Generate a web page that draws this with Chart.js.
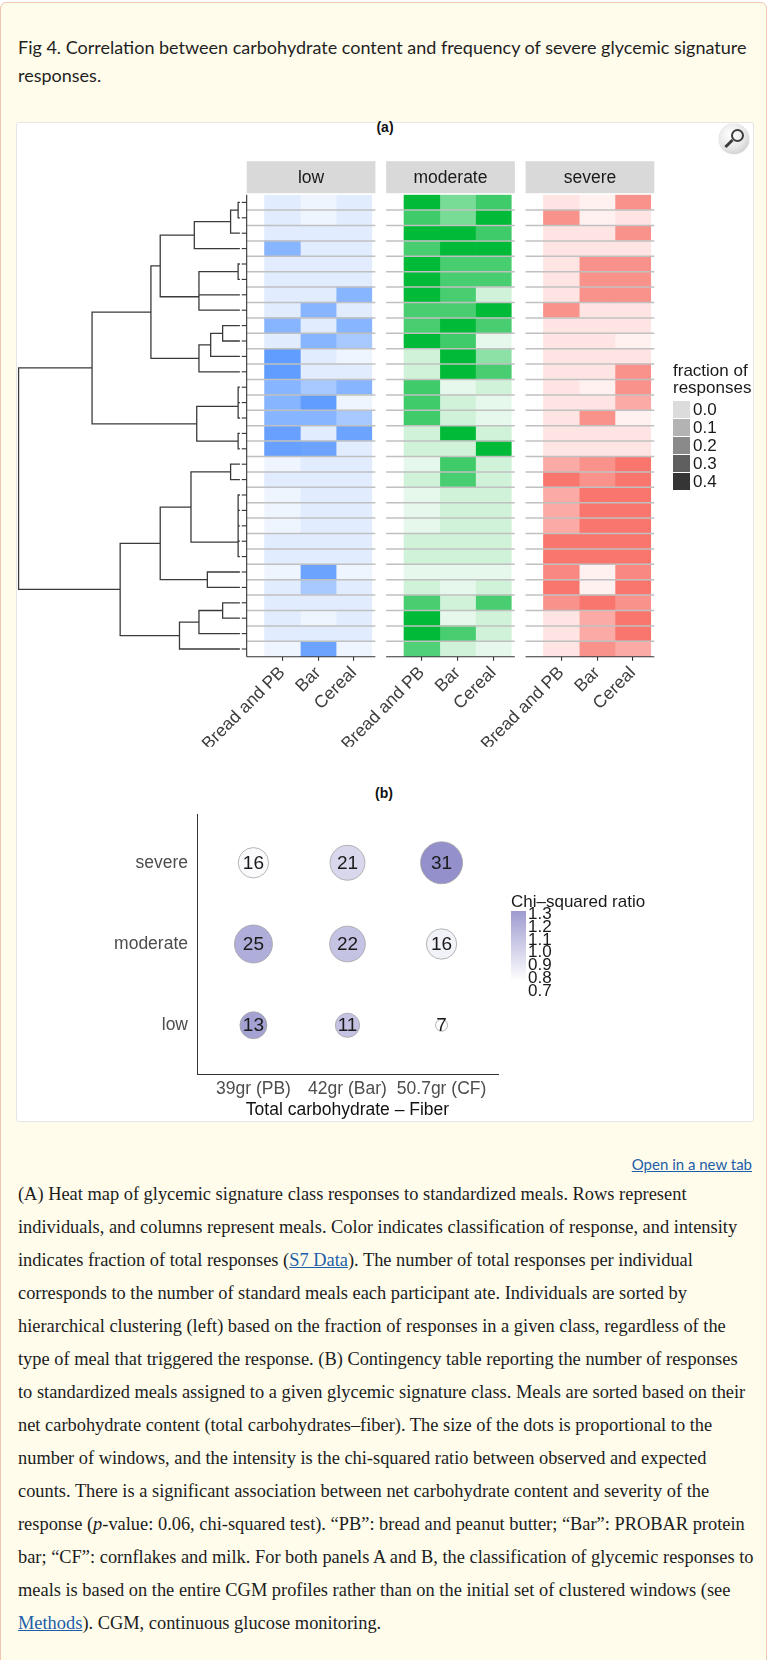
<!DOCTYPE html>
<html lang="en">
<head>
  <meta charset="UTF-8" />
  <title>Fig 4 - Glycemic signature responses</title>
  <script src="https://cdn.jsdelivr.net/npm/chart.js"></script>
  <style>
    html, body { margin:0; padding:0; }
    body { width:768px; height:1660px; background:#fff; position:relative; overflow:hidden; font-family:'Liberation Sans', Arial, sans-serif; }
    .box { position:absolute; left:0; top:2px; width:765px; height:1700px; background:#fffcec; border:1px solid #f2c6b0; border-radius:6px; }
    .title { position:absolute; left:18px; top:33px; font-family:Lato, sans-serif; font-size:18px; line-height:28px; color:#1f1f1f; white-space:nowrap; }
    .panel { position:absolute; left:16px; top:122px; width:736px; height:998px; background:#fff; border:1px solid #e6e6e6; border-radius:3px; }
    .tag { position:absolute; font-weight:bold; font-size:14px; color:#111; transform:translate(-50%, -50%); }
    .wrap { position:absolute; left:0; width:768px; }
    .zoomicon { position:absolute; left:719px; top:124px; width:30px; height:30px; border-radius:50%;
      background:radial-gradient(circle at 40% 35%, #ffffff 0%, #e6e6e6 55%, #b9b9b9 100%); box-shadow:0 0 1px #888; }
    .zoomicon .lens { position:absolute; left:12px; top:5px; width:9px; height:9px; border:2px solid #3c3c3c; border-radius:50%; }
    .zoomicon .handle { position:absolute; left:5px; top:18px; width:10px; height:3px; background:#3c3c3c; transform:rotate(-45deg); }
    .leg { position:absolute; font-size:17px; color:#1a1a1a; white-space:nowrap; line-height:16.7px; }
    .key { position:absolute; width:17px; height:17px; }
    .klab { position:absolute; font-size:17px; color:#1a1a1a; transform:translateY(-50%); }
    .cbar { position:absolute; left:511px; top:911px; width:15px; height:70px; background:linear-gradient(#9e9bd0, #ffffff); }
    .open { position:absolute; right:16px; top:1155px; font-family:Lato, sans-serif; font-size:15px; color:#1d5ea8; text-decoration:underline; }
    .caption { position:absolute; left:18px; top:1178px; font-family:'Liberation Serif', serif; font-size:18.4px; line-height:33px; color:#1c1c1c; white-space:nowrap; }
    .caption a { color:#1d5ea8; text-decoration:underline; }
  </style>
</head>
<body>
  <div class="box"></div>
  <div class="title">Fig 4. Correlation between carbohydrate content and frequency of severe glycemic signature<br>responses.</div>
  <div class="panel"></div>
  <div class="zoomicon"><div class="lens"></div><div class="handle"></div></div>
  <div class="tag" style="left:385px; top:127px;">(a)</div>
  <div class="tag" style="left:384px; top:793px;">(b)</div>

  <div class="wrap" style="top:150px; height:600px;"><canvas id="heatChart"></canvas></div>
  <div class="wrap" style="top:790px; height:340px;"><canvas id="bubbleChart"></canvas></div>

  <!-- fraction legend -->
  <div class="leg" style="left:673px; top:363px;">fraction of<br>responses</div>
  <div id="fracKeys"></div>

  <!-- chi-squared legend -->
  <div class="leg" style="left:511px; top:894px;">Chi&ndash;squared ratio</div>
  <div class="cbar"></div>
  <div id="chiLabels"></div>

  <a class="open">Open in a new tab</a>

  <div class="caption">
(A) Heat map of glycemic signature class responses to standardized meals. Rows represent<br>
individuals, and columns represent meals. Color indicates classification of response, and intensity<br>
indicates fraction of total responses (<a>S7 Data</a>). The number of total responses per individual<br>
corresponds to the number of standard meals each participant ate. Individuals are sorted by<br>
hierarchical clustering (left) based on the fraction of responses in a given class, regardless of the<br>
type of meal that triggered the response. (B) Contingency table reporting the number of responses<br>
to standardized meals assigned to a given glycemic signature class. Meals are sorted based on their<br>
net carbohydrate content (total carbohydrates&ndash;fiber). The size of the dots is proportional to the<br>
number of windows, and the intensity is the chi-squared ratio between observed and expected<br>
counts. There is a significant association between net carbohydrate content and severity of the<br>
response (<i>p</i>-value: 0.06, chi-squared test). &ldquo;PB&rdquo;: bread and peanut butter; &ldquo;Bar&rdquo;: PROBAR protein<br>
bar; &ldquo;CF&rdquo;: cornflakes and milk. For both panels A and B, the classification of glycemic responses to<br>
meals is based on the entire CGM profiles rather than on the initial set of clustered windows (see<br>
<a>Methods</a>). CGM, continuous glucose monitoring.
  </div>

  <script>
    // ---- panel (a) data: fraction of responses per individual (row) for Bread and PB, Bar, Cereal ----
    const meals = ["Bread and PB", "Bar", "Cereal"];
    const classNames = ["low", "moderate", "severe"];

    const lowFrac = [
      [.04, 0, .04], [.04, 0, .04], [.04, .04, .04], [.29, .04, .04], [.04, .04, .04],
      [.04, .04, .04], [.04, .04, .29], [.04, .29, .04], [.29, .04, .29], [.04, .29, .2],
      [.4, .04, 0], [.4, .04, .04], [.29, .2, .29], [.29, .4, 0], [.29, .29, .2],
      [.38, .04, .37], [.38, .37, .04], [0, .04, .04], [.04, .04, .04], [0, .04, .04],
      [0, .04, .04], [0, .04, .04], [.04, .04, .04], [.04, .04, .04], [0, .37, 0],
      [.04, .2, .04], [.04, .04, .04], [.04, 0, .04], [.04, .04, .04], [0, .37, 0]
    ];
    const moderateFrac = [
      [.4, .19, .29], [.29, .19, .4], [.4, .4, .29], [.275, .4, .4], [.4, .275, .275],
      [.4, .275, .275], [.4, .275, .04], [.275, .275, .4], [.275, .4, .275], [.4, .29, 0],
      [.04, .4, .155], [.04, .4, .275], [.29, 0, .04], [.29, .04, 0], [.29, .04, 0],
      [.04, .4, .04], [.04, .04, .4], [0, .29, .04], [.04, .275, .04], [0, .04, .04],
      [0, .04, .04], [0, .04, .04], [.04, .04, .04], [.04, .04, .04], [0, 0, 0],
      [.04, 0, .04], [.275, .04, .275], [.4, 0, .04], [.4, .275, .04], [.26, .04, 0]
    ];
    const severeFrac = [
      [.04, 0, .31], [.31, 0, .04], [.04, .04, .31], [.04, .04, .04], [.04, .31, .31],
      [.04, .31, .31], [.04, .31, .31], [.31, .04, .04], [.04, .04, .04], [.04, .04, 0],
      [.04, .04, .04], [.04, .04, .31], [.04, 0, .31], [.04, .04, .23], [.04, .31, 0],
      [.04, .04, .04], [.04, .04, .04], [.23, .31, .4], [.4, .31, .4], [.23, .4, .4],
      [.23, .4, .4], [.23, .4, .4], [.4, .4, .4], [.4, .4, .4], [.34, 0, .34],
      [.4, 0, .4], [.31, .4, .31], [.04, .23, .4], [.04, .23, .4], [.04, .31, .23]
    ];
    const fracLegend = [0.0, 0.1, 0.2, 0.3, 0.4];

    // hierarchical clustering of rows (hclust style: negative = row, positive = earlier merge)
    const dendroMerge = [
      [-1, -2], [1, -3], [2, -4], [-5, -6], [4, -7], [5, -8], [3, 6],
      [-9, -10], [8, -11], [9, -12], [7, 10], [-13, -14], [12, -15], [-16, -17],
      [13, 14], [11, 15], [-18, -19], [-20, -21], [18, -22], [19, -23], [20, -24],
      [17, 21], [-25, -26], [22, 23], [-27, -28], [25, -29], [26, -30], [24, 27], [16, 28]
    ];
    const dendroHeight = [
      0.008, 0.042, 0.206, 0.008, 0.185, 0.185, 0.36,
      0.078, 0.132, 0.185, 0.402, 0.008, 0.008, 0.008,
      0.195, 0.668, 0.042, 0.008, 0.008, 0.008, 0.008,
      0.221, 0.147, 0.36, 0.078, 0.185, 0.273, 0.541, 1.0
    ];

    // ---- panel (b) data ----
    const carbLabels = ["39gr (PB)", "42gr (Bar)", "50.7gr (CF)"];
    const lowCounts = [13, 11, 7];
    const moderateCounts = [25, 22, 16];
    const severeCounts = [16, 21, 31];
    const lowChi = [1.26, 1.06, 0.68];
    const moderateChi = [1.19, 1.05, 0.76];
    const severeChi = [0.71, 0.93, 1.37];
    const chiTicks = [1.3, 1.2, 1.1, 1.0, 0.9, 0.8, 0.7];

    Chart.defaults.font.family = "'Liberation Sans', Arial, sans-serif";
    Chart.defaults.animation = false;

    // ---------------- heat map ----------------
    const ROWS = lowFrac.length;
    const PANEL_W = 3.6, PANEL_GAP = 0.3;
    const VMAX = 0.4;
    const panelStart = p => p * (PANEL_W + PANEL_GAP);
    const classRGB = [[97, 156, 255], [0, 186, 56], [248, 118, 109]];
    const classFrac = [lowFrac, moderateFrac, severeFrac];

    function tint(rgb, v) {
      const a = 0.1 + 0.9 * Math.min(v, VMAX) / VMAX;
      const c = rgb.map(k => Math.round(255 - a * (255 - k)));
      return "rgb(" + c.join(",") + ")";
    }

    const heatSets = [];
    const colTicks = [];
    classFrac.forEach((frac, p) => {
      meals.forEach((meal, m) => {
        const cx = panelStart(p) + m + 1;
        colTicks.push(cx);
        heatSets.push({
          type: "bar",
          label: classNames[p] + " " + meal,
          data: frac.map((row, i) => ({ x: cx, y: [i + 0.5, i + 1.5] })),
          backgroundColor: frac.map(row => tint(classRGB[p], row[m])),
          borderWidth: 0,
          grouped: false,
          barPercentage: 1,
          categoryPercentage: 1,
          order: 2
        });
      });
    });

    // dendrogram on the left, height 0 at the leaves
    const DLEAF = -0.19, DSCALE = 6.19;
    const hx = h => DLEAF - h * DSCALE;
    const nodes = [];
    const nodeOf = k => k < 0 ? { y: -k, h: 0 } : nodes[k - 1];
    const dendroPts = [];
    dendroMerge.forEach((pair, j) => {
      const a = nodeOf(pair[0]), b = nodeOf(pair[1]);
      const h = dendroHeight[j];
      dendroPts.push({ x: hx(a.h), y: a.y }, { x: hx(h), y: a.y },
                     { x: hx(h), y: b.y }, { x: hx(b.h), y: b.y }, { x: null, y: null });
      nodes.push({ y: (a.y + b.y) / 2, h: h });
    });
    heatSets.push({
      type: "line",
      label: "dendrogram",
      data: dendroPts,
      borderColor: "#3a3a3a",
      borderWidth: 1.3,
      pointRadius: 0,
      fill: false,
      spanGaps: false,
      tension: 0,
      order: 1
    });

    const heatDecor = {
      id: "heatDecor",
      afterDatasetsDraw(chart) {
        const { ctx, chartArea: a, scales: { x, y } } = chart;
        ctx.save();
        classNames.forEach((name, p) => {
          const x0 = x.getPixelForValue(panelStart(p));
          const x1 = x.getPixelForValue(panelStart(p) + PANEL_W);
          ctx.strokeStyle = "#c0c0c0";
          ctx.lineWidth = 1.5;
          for (let k = 1; k < ROWS; k++) {
            const py = y.getPixelForValue(k + 0.5);
            ctx.beginPath(); ctx.moveTo(x0, py); ctx.lineTo(x1, py); ctx.stroke();
          }
          ctx.fillStyle = "#d9d9d9";
          ctx.fillRect(x0, a.top - 33.5, x1 - x0, 32);
          ctx.fillStyle = "#1a1a1a";
          ctx.font = "17.5px 'Liberation Sans', Arial, sans-serif";
          ctx.textAlign = "center";
          ctx.textBaseline = "middle";
          ctx.fillText(name, (x0 + x1) / 2, a.top - 17);
          ctx.strokeStyle = "#333";
          ctx.lineWidth = 1.1;
          ctx.beginPath(); ctx.moveTo(x0, a.bottom); ctx.lineTo(x1, a.bottom); ctx.stroke();
        });
        const xa = x.getPixelForValue(0);
        const xt = x.getPixelForValue(-0.14);
        ctx.beginPath(); ctx.moveTo(xa, a.top); ctx.lineTo(xa, a.bottom); ctx.stroke();
        for (let i = 1; i <= ROWS; i++) {
          const py = y.getPixelForValue(i);
          ctx.beginPath(); ctx.moveTo(xt, py); ctx.lineTo(xa, py); ctx.stroke();
        }
        ctx.restore();
      }
    };

    new Chart(document.getElementById("heatChart"), {
      type: "bar",
      data: { datasets: heatSets },
      options: {
        responsive: true,
        maintainAspectRatio: false,
        events: [],
        layout: { padding: { left: 17.5, right: 113.7, top: 44.7, bottom: 3.3 }, autoPadding: false },
        plugins: { legend: { display: false }, tooltip: { enabled: false } },
        scales: {
          x: {
            type: "linear",
            offset: false,
            min: -6.41,
            max: panelStart(2) + PANEL_W,
            afterBuildTicks: s => { s.ticks = colTicks.map(v => ({ value: v })); },
            afterFit: s => { s.height = 90; s.paddingLeft = 0; s.paddingRight = 0; },
            ticks: {
              autoSkip: false,
              minRotation: 45,
              maxRotation: 45,
              padding: 2,
              color: "#3d3d3d",
              font: { size: 17.5 },
              callback: (v, i) => meals[i % 3]
            },
            grid: { offset: false, drawOnChartArea: false, drawTicks: true, tickLength: 4, color: "#333", lineWidth: 1.1 },
            border: { display: false }
          },
          y: { type: "linear", min: 0.5, max: ROWS + 0.5, reverse: true, display: false }
        }
      },
      plugins: [heatDecor]
    });

    // fraction legend keys
    const keyGrays = ["#dcdcdc", "#b3b3b3", "#8a8a8a", "#5f5f5f", "#353535"];
    let keyHtml = "";
    fracLegend.forEach((v, i) => {
      const top = 401 + i * 18;
      keyHtml += '<div class="key" style="left:673px; top:' + top + 'px; background:' + keyGrays[i] + ';"></div>';
      keyHtml += '<div class="klab" style="left:693px; top:' + (top + 8.5) + 'px;">' + v.toFixed(1) + '</div>';
    });
    document.getElementById("fracKeys").innerHTML = keyHtml;

    // chi legend labels
    let chiHtml = "";
    chiTicks.forEach((v, i) => {
      chiHtml += '<div class="klab" style="left:528px; top:' + (914 + i * 12.8) + 'px; line-height:14px;">' + v.toFixed(1) + '</div>';
    });
    document.getElementById("chiLabels").innerHTML = chiHtml;

    // ---------------- contingency bubbles ----------------
    const rowCounts = [lowCounts, moderateCounts, severeCounts];
    const rowChi = [lowChi, moderateChi, severeChi];
    const allCounts = rowCounts.flat();
    const nMin = Math.min(...allCounts), nMax = Math.max(...allCounts);
    const allChi = rowChi.flat();
    const cMin = Math.min(...allChi), cMax = Math.max(...allChi);
    const radiusFor = n => 6 + 15 * Math.sqrt((n - nMin) / (nMax - nMin));
    const hiChi = [147, 144, 203];
    const chiColor = c => {
      const t = (c - cMin) / (cMax - cMin);
      return "rgb(" + hiChi.map(k => Math.round(255 - t * (255 - k))).join(",") + ")";
    };

    const bubblePts = [], bubbleFill = [], bubbleText = [];
    rowCounts.forEach((counts, r) => {
      counts.forEach((n, c) => {
        bubblePts.push({ x: c + 1, y: r + 1, r: radiusFor(n) });
        bubbleFill.push(chiColor(rowChi[r][c]));
        bubbleText.push(String(n));
      });
    });

    const bubbleLabels = {
      id: "bubbleLabels",
      afterDatasetsDraw(chart) {
        const { ctx } = chart;
        const meta = chart.getDatasetMeta(0);
        ctx.save();
        ctx.fillStyle = "#1a1a1a";
        ctx.font = "19px 'Liberation Sans', Arial, sans-serif";
        ctx.textAlign = "center";
        ctx.textBaseline = "middle";
        meta.data.forEach((el, i) => ctx.fillText(bubbleText[i], el.x, el.y + 1));
        ctx.restore();
      }
    };

    new Chart(document.getElementById("bubbleChart"), {
      type: "bubble",
      data: {
        datasets: [{
          label: "responses",
          data: bubblePts,
          backgroundColor: bubbleFill,
          borderColor: "#a3a3a3",
          borderWidth: 0.8
        }]
      },
      options: {
        responsive: true,
        maintainAspectRatio: false,
        events: [],
        layout: { padding: { left: 87, right: 270, top: 24, bottom: 0 }, autoPadding: false },
        plugins: { legend: { display: false }, tooltip: { enabled: false } },
        scales: {
          x: {
            type: "linear",
            min: 0.4,
            max: 3.6,
            afterBuildTicks: s => { s.ticks = carbLabels.map((l, i) => ({ value: i + 1 })); },
            afterFit: s => { s.height = 56; s.paddingLeft = 0; s.paddingRight = 0; },
            ticks: { padding: 5, color: "#4d4d4d", font: { size: 17.5 }, maxRotation: 0, callback: (v, i) => carbLabels[i] },
            grid: { display: false, drawTicks: false },
            border: { display: true, color: "#333", width: 1 },
            title: { display: true, text: "Total carbohydrate \u2013 Fiber", color: "#111", font: { size: 17.5 }, padding: { top: 0, bottom: 9 } }
          },
          y: {
            type: "linear",
            min: 0.4,
            max: 3.6,
            afterBuildTicks: s => { s.ticks = classNames.map((l, i) => ({ value: i + 1 })); },
            afterFit: s => { s.width = 110; s.paddingTop = 0; s.paddingBottom = 0; },
            ticks: { padding: 9, color: "#4d4d4d", font: { size: 17.5 }, callback: (v, i) => classNames[i] },
            grid: { display: false, drawTicks: false },
            border: { display: true, color: "#333", width: 1 }
          }
        }
      },
      plugins: [bubbleLabels]
    });
  </script>
</body>
</html>
